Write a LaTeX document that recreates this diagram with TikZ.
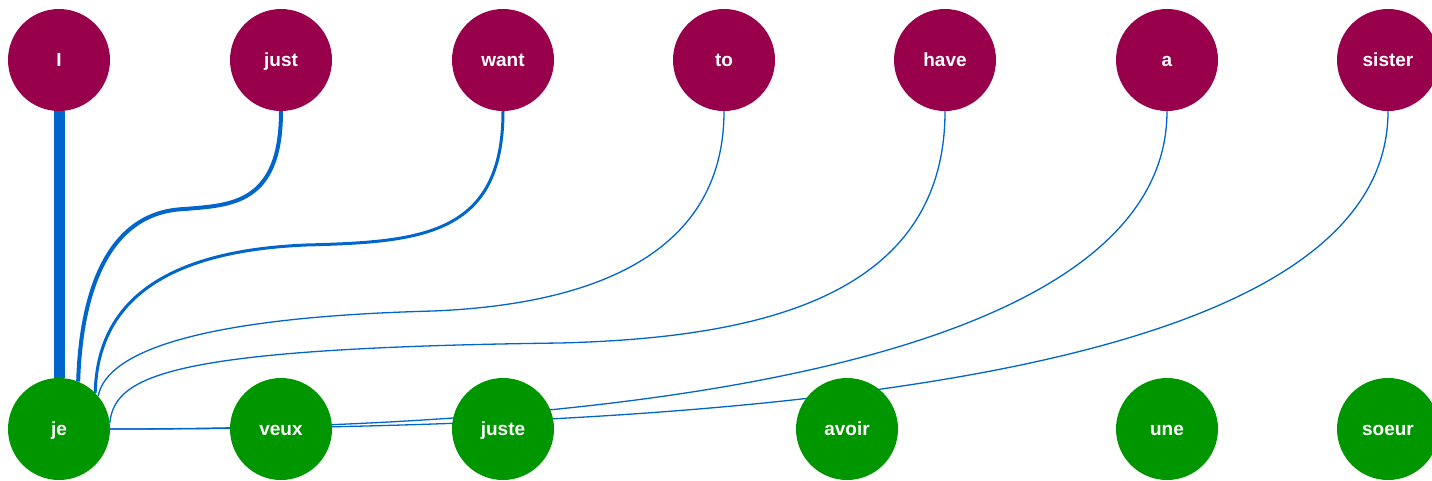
\documentclass[tikz,border=0pt]{standalone}
\usepackage{fontspec}
\setmainfont{Liberation Sans}
\usetikzlibrary{backgrounds}
\definecolor{enred}{RGB}{153,0,76}
\definecolor{frgreen}{RGB}{0,150,0}
\definecolor{alignblue}{RGB}{0,102,204}

\begin{document}
\begin{tikzpicture}[x=1pt, y=-1pt, font=\bfseries\fontsize{19}{21}\selectfont]
  \tikzset{
    word/.style={circle, minimum size=102pt, inner sep=0pt, text=white,
      text height=13pt, text depth=0pt},
    en/.style={word, fill=enred},
    fr/.style={word, fill=frgreen},
    align/.style={draw=alignblue, line width=#1},
    align/.default=1.3pt
  }
  \useasboundingbox (0,0) rectangle (1432,480);

  % Engelse zin
  \node[en] (en-I) at (59,60) {I};
  \node[en] (en-just) at (281,60) {just};
  \node[en] (en-want) at (503,60) {want};
  \node[en] (en-to) at (724,60) {to};
  \node[en] (en-have) at (945,60) {have};
  \node[en] (en-a) at (1167,60) {a};
  \node[en] (en-sister) at (1388,60) {sister};

  % Franse zin
  \node[fr] (fr-je) at (59,429) {je};
  \node[fr] (fr-veux) at (281,429) {veux};
  \node[fr] (fr-juste) at (503,429) {juste};
  \node[fr] (fr-avoir) at (847,429) {avoir};
  \node[fr] (fr-une) at (1167,429) {une};
  \node[fr] (fr-soeur) at (1388,429) {soeur};

  % Uitlijning naar "je"
  \begin{scope}[on background layer]
    \draw[align=11pt] (en-I.south) -- (fr-je.north);
    \draw[align=4pt] (en-just.south) .. controls +(0,94) and (230,205) .. (185,209)
      .. controls (95,212) and (80,320) .. (fr-je.68);
    \draw[align=3pt] (en-want.south) .. controls +(0,125) and (420,242) .. (306,245)
      .. controls (140,252) and (97,320) .. (fr-je.45);
    \draw[align] (en-to.south) .. controls +(0,150) and (580,305) .. (433,311)
      .. controls (170,318) and (105,360) .. (fr-je.40);
    \draw[align] (en-have.south) .. controls +(0,190) and (750,338) .. (560,343)
      .. controls (170,348) and (115,375) .. (fr-je.7);
    \draw[align] (en-a.south) .. controls +(0,220) and +(640,0) .. (fr-je.east);
    \draw[align] (en-sister.south) .. controls +(0,270) and +(640,0) .. (fr-je.east);
  \end{scope}
\end{tikzpicture}
\end{document}
